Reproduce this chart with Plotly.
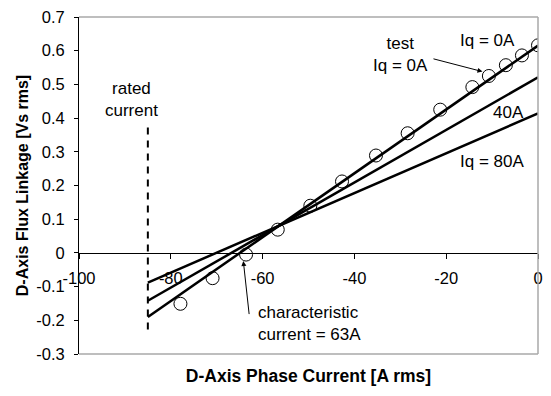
import plotly.graph_objects as go

# ---- data ----
line_x = [-85, 0]
iq0_line = [-0.190, 0.615]
iq40_line = [-0.142, 0.521]
iq80_line = [-0.088, 0.414]

test_x = [0, -3.5, -7.0, -10.7, -14.3, -21.3, -28.4, -35.3, -42.7, -49.6, -56.7, -63.6, -70.9, -77.9]
test_y = [0.616, 0.586, 0.557, 0.525, 0.492, 0.425, 0.355, 0.289, 0.212, 0.140, 0.069, -0.005, -0.075, -0.151]

rated_x = [-85, -85]
rated_y = [0.372, -0.244]

x_ticks = [-100, -80, -60, -40, -20, 0]
x_ticktext = ["-100", "-80", "-60", "-40", "-20", "0"]
y_ticks = [-0.3, -0.2, -0.1, 0, 0.1, 0.2, 0.3, 0.4, 0.5, 0.6, 0.7]
y_ticktext = ["-0.3", "-0.2", "-0.1", "0", "0.1", "0.2", "0.3", "0.4", "0.5", "0.6", "0.7"]

FONT = "Liberation Sans, Arial, sans-serif"

fig = go.Figure()

for ys, name in [(iq0_line, "Iq = 0A"), (iq40_line, "40A"), (iq80_line, "Iq = 80A")]:
    fig.add_trace(go.Scatter(x=line_x, y=ys, mode="lines", name=name,
                             line=dict(color="black", width=2.5), showlegend=False))

fig.add_trace(go.Scatter(x=test_x, y=test_y, mode="markers", name="test Iq = 0A",
                         marker=dict(symbol="circle-open", size=13, color="black",
                                     line=dict(width=1, color="black")),
                         showlegend=False))

fig.add_trace(go.Scatter(x=rated_x, y=rated_y, mode="lines", name="rated current",
                         line=dict(color="black", width=2, dash="7px,6px"), showlegend=False))

ann_font = dict(family=FONT, size=17, color="black")
annotations = [
    dict(x=-88.6, y=0.454, text="rated<br>current", showarrow=False, font=ann_font),
    dict(x=-30.0, y=0.589, text="test<br>Iq = 0A", showarrow=False, font=ann_font),
    dict(x=-11.1, y=0.630, text="Iq = 0A", showarrow=False, font=ann_font),
    dict(x=-6.5, y=0.416, text="40A", showarrow=False, font=ann_font),
    dict(x=-10.0, y=0.271, text="Iq = 80A", showarrow=False, font=ann_font),
    dict(x=-61.5, y=-0.208, text="characteristic<br>current = 63A", showarrow=False,
         xanchor="left", align="left", font=ann_font),
    dict(x=-12.1, y=0.538, ax=-23.1, ay=0.577, axref="x", ayref="y", text="",
         showarrow=True, arrowhead=2, arrowsize=1, arrowwidth=1, arrowcolor="black"),
    dict(x=-64.2, y=-0.024, ax=-62.9, ay=-0.186, axref="x", ayref="y", text="",
         showarrow=True, arrowhead=2, arrowsize=1, arrowwidth=1, arrowcolor="black"),
]

frame = dict(color="#a8a8a8", width=1.5)
shapes = [
    dict(type="line", xref="paper", yref="paper", x0=0, y0=1, x1=1, y1=1, line=frame),
    dict(type="line", xref="paper", yref="paper", x0=1, y0=0, x1=1, y1=1, line=frame),
    dict(type="line", xref="paper", yref="paper", x0=0, y0=0, x1=1, y1=0, line=frame),
]

fig.update_layout(
    width=551, height=396,
    margin=dict(l=79, r=8, t=13, b=42),
    paper_bgcolor="white", plot_bgcolor="white",
    font=dict(family=FONT, size=16, color="black"),
    annotations=annotations,
    shapes=shapes,
    xaxis=dict(range=[-100, 0], anchor="free", position=0.3,
               tickvals=x_ticks, ticktext=x_ticktext,
               ticks="outside", ticklen=5, tickcolor="black", tickwidth=1,
               showline=True, linecolor="black", linewidth=1,
               showgrid=False, zeroline=False,
               ticklabelstandoff=5,
               tickfont=dict(family=FONT, size=16.5),
               title=dict(text="<b>D-Axis Phase Current [A rms]</b>", standoff=84,
                          font=dict(family=FONT, size=17.5))),
    yaxis=dict(range=[-0.3, 0.7],
               tickvals=y_ticks, ticktext=y_ticktext,
               ticks="outside", ticklen=4, tickcolor="black", tickwidth=1,
               showline=True, linecolor="black", linewidth=1,
               showgrid=False, zeroline=False,
               ticklabelstandoff=6,
               tickfont=dict(family=FONT, size=16.5),
               title=dict(text="<b>D-Axis Flux Linkage [Vs rms]</b>", standoff=3,
                          font=dict(family=FONT, size=16))),
)

fig.write_html("out.html")
